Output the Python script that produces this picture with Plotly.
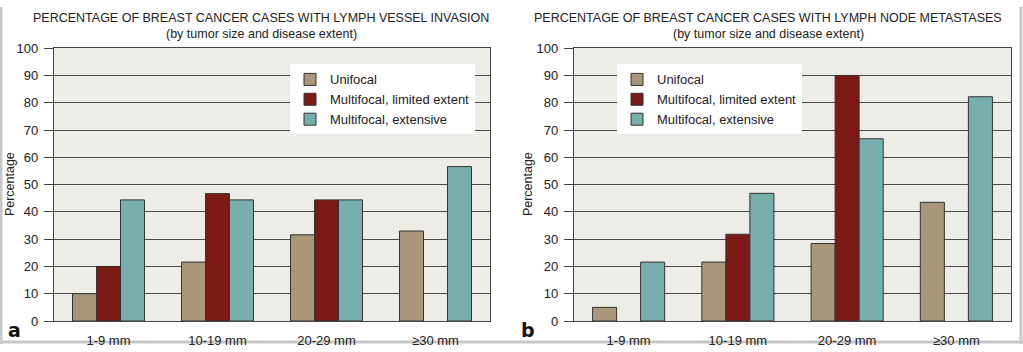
import plotly.graph_objects as go

categories = ["1-9 mm", "10-19 mm", "20-29 mm", "≥30 mm"]
series_names = ["Unifocal", "Multifocal, limited extent", "Multifocal, extensive"]

# Panel a: lymph vessel invasion
a_unifocal = [10, 21.6, 31.6, 33.0]
a_limited = [20, 46.7, 44.4, None]
a_extensive = [44.4, 44.4, 44.4, 56.6]

# Panel b: lymph node metastases
b_unifocal = [5.0, 21.6, 28.4, 43.5]
b_limited = [None, 31.8, 90.0, None]
b_extensive = [21.6, 46.8, 66.8, 82.2]

y_ticks = [0, 10, 20, 30, 40, 50, 60, 70, 80, 90, 100]

title_a = "PERCENTAGE OF BREAST CANCER CASES WITH LYMPH VESSEL INVASION"
title_b = "PERCENTAGE OF BREAST CANCER CASES WITH LYMPH NODE METASTASES"
subtitle = "(by tumor size and disease extent)"

colors = ["#A8977A", "#7B1A17", "#78AEAB"]
FONT = "Liberation Sans, Arial, Helvetica, sans-serif"
W, H = 1023, 352

fig = go.Figure()

for name, vals, col in zip(series_names, [a_unifocal, a_limited, a_extensive], colors):
    fig.add_trace(go.Bar(x=categories, y=vals, name=name, marker=dict(color=col, line=dict(color="#333333", width=1)),
                         xaxis="x", yaxis="y", legend="legend"))
for name, vals, col in zip(series_names, [b_unifocal, b_limited, b_extensive], colors):
    fig.add_trace(go.Bar(x=categories, y=vals, name=name, marker=dict(color=col, line=dict(color="#333333", width=1)),
                         xaxis="x2", yaxis="y2", legend="legend2"))

ydom = [1 - 328 / H, 1 - 43 / H]
xdom_a = [54 / W, 490 / W]
xdom_b = [574 / W, 1011 / W]

yaxis_common = dict(range=[0, 100], tickvals=y_ticks, showgrid=True, gridcolor="#4a4a4a", gridwidth=1,
                    zeroline=False, showline=True, linecolor="#444444", linewidth=1.2, mirror=True,
                    ticks="outside", ticklen=9, tickcolor="#444444", tickwidth=1, ticklabelstandoff=3,
                    tickfont=dict(family=FONT, size=13, color="#222222"), domain=ydom, fixedrange=True)
xaxis_common = dict(showgrid=False, zeroline=False, showline=True, linecolor="#444444", linewidth=1.2, mirror=True,
                    ticks="outside", ticklen=7, tickcolor="rgba(0,0,0,0)",
                    tickfont=dict(family=FONT, size=13, color="#222222"), fixedrange=True)

legend_common = dict(bgcolor="white", borderwidth=0, font=dict(family=FONT, size=13, color="#222222"),
                     xanchor="left", yanchor="top", tracegroupgap=0, itemclick=False)

fig.update_layout(
    width=W, height=H,
    margin=dict(l=0, r=0, t=0, b=0),
    paper_bgcolor="white",
    plot_bgcolor="#EEECE6",
    barmode="group", bargap=0.34, bargroupgap=0,
    xaxis=dict(domain=xdom_a, anchor="y", **xaxis_common),
    yaxis=dict(anchor="x", **yaxis_common),
    xaxis2=dict(domain=xdom_b, anchor="y2", **xaxis_common),
    yaxis2=dict(anchor="x2", **yaxis_common),
    legend=dict(x=290 / W, y=1 - 60 / H, **legend_common),
    legend2=dict(x=617 / W, y=1 - 60 / H, **legend_common),
    showlegend=True,
)

ann = []
for title, cx in [(title_a, 261), (title_b, 768)]:
    ann.append(dict(text=title, x=cx / W, y=1 - 12 / H, xref="paper", yref="paper", showarrow=False,
                    xanchor="center", yanchor="middle", font=dict(family=FONT, size=12.5, color="#222222")))
    ann.append(dict(text=subtitle, x=cx / W, y=1 - 28 / H, xref="paper", yref="paper", showarrow=False,
                    xanchor="center", yanchor="middle", font=dict(family=FONT, size=12.5, color="#222222")))
for cx in [10, 528]:
    ann.append(dict(text="Percentage", x=cx / W, y=1 - 185 / H, xref="paper", yref="paper", showarrow=False,
                    textangle=-90, xanchor="center", yanchor="middle", font=dict(family=FONT, size=12.5, color="#222222")))
for lab, cx in [("a", 14), ("b", 528)]:
    ann.append(dict(text="<b>" + lab + "</b>", x=cx / W, y=1 - 337 / H, xref="paper", yref="paper", showarrow=False,
                    xanchor="center", yanchor="middle", font=dict(family="DejaVu Sans, sans-serif", size=19, color="#111111")))
fig.update_layout(annotations=ann)

# outer gray frame of the figure image
border = dict(type="line", xref="paper", yref="paper", layer="below", line=dict(color="#C8C8C8", width=3))
fig.update_layout(shapes=[
    dict(x0=0.001, x1=0.001, y0=0, y1=1, **border),
    dict(x0=1021 / W, x1=1021 / W, y0=0, y1=1, **border),
    dict(x0=0, x1=1, y0=1 - 350 / H, y1=1 - 350 / H, **border),
])

fig.write_html("out.html")
